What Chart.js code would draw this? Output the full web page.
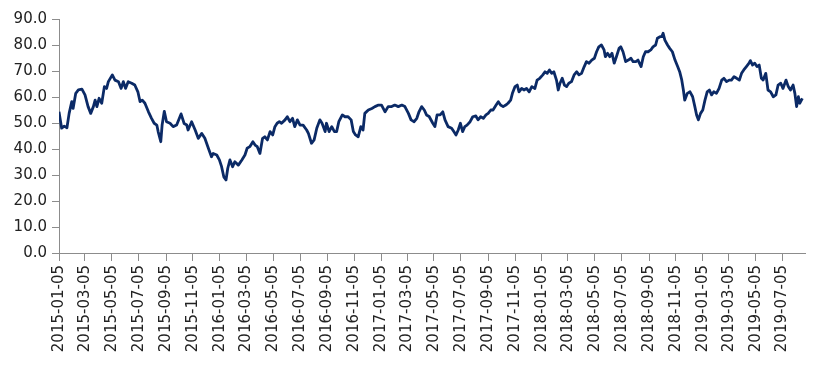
<!DOCTYPE html>
<html>
<head>
<meta charset="utf-8">
<script src="https://cdn.jsdelivr.net/npm/chart.js@4"></script>
<style>
html,body{margin:0;padding:0;background:#fff;}
#wrap{width:816px;height:380px;position:relative;}
</style>
</head>
<body>
<div id="wrap"><canvas id="c" width="816" height="380"></canvas></div>
<script>
// Start date of the series; x positions are days since this date
const startDate = "2015-01-05";
const dayOffsets = [0,6,12,18,23,29,32,38,44,52,59,66,72,78,82,86,91,97,103,108,112,121,127,135,141,146,151,157,165,172,179,184,189,195,203,210,216,222,225,231,234,239,244,252,259,267,277,284,290,293,301,309,316,324,331,339,346,350,358,364,369,374,379,383,388,394,399,407,415,422,427,433,440,445,450,456,462,467,473,479,485,490,495,500,505,513,518,524,530,535,541,547,554,562,566,573,579,585,592,597,604,607,613,619,625,630,635,643,649,656,663,668,673,679,685,690,694,702,710,717,725,732,740,747,755,762,770,778,785,793,799,806,812,817,823,829,834,840,848,853,858,865,871,876,883,891,896,901,906,911,916,921,926,933,939,946,951,957,963,969,974,980,985,992,997,1002,1008,1014,1019,1025,1029,1035,1040,1044,1050,1055,1061,1067,1073,1080,1085,1091,1098,1103,1108,1113,1118,1123,1129,1133,1137,1142,1147,1152,1157,1163,1169,1175,1180,1186,1192,1197,1203,1209,1215,1220,1225,1231,1237,1240,1245,1250,1255,1260,1265,1271,1275,1280,1286,1292,1298,1303,1309,1314,1321,1326,1331,1337,1343,1348,1354,1358,1364,1368,1371,1375,1381,1386,1392,1398,1404,1409,1413,1417,1420,1426,1432,1438,1443,1447,1451,1456,1461,1466,1471,1476,1481,1486,1492,1498,1504,1509,1515,1521,1526,1532,1538,1544,1549,1554,1560,1566,1569,1574,1579,1584,1589,1594,1598,1604,1609,1615,1621,1627,1632,1638,1643,1650,1655,1660,1666,1670,1674,1678,1681,1687];
const values = [54.3,48.0,48.8,48.2,53.7,58.2,55.6,61.4,62.7,63.0,60.8,56.3,53.7,56.3,58.8,56.3,59.5,57.6,64.0,63.3,65.9,68.5,66.5,65.9,63.3,65.9,63.3,65.9,65.3,64.6,62.0,58.2,58.8,57.6,54.3,51.8,49.9,49.2,46.7,42.8,49.2,54.5,50.5,49.9,48.6,49.2,53.5,49.8,49.2,47.3,50.5,47.3,44.1,46.0,44.1,40.3,37.0,38.3,37.7,35.8,33.2,29.3,28.1,32.6,35.8,33.2,35.1,33.8,35.8,37.7,40.3,40.9,42.8,41.5,40.9,38.3,44.1,44.7,43.5,46.7,45.4,48.6,49.9,50.5,49.9,51.2,52.4,50.5,51.8,48.6,51.2,49.2,49.2,47.3,46.0,42.2,43.5,48.0,51.2,49.9,46.7,49.9,46.7,48.6,46.7,46.7,50.5,53.1,52.4,52.4,51.2,46.7,45.4,44.7,48.6,47.3,53.7,55.0,55.6,56.3,56.9,56.9,54.3,56.3,56.3,56.9,56.3,56.9,56.3,53.7,51.2,50.5,51.8,54.3,56.3,55.0,53.1,52.5,50.0,48.6,53.1,53.1,54.3,51.2,48.6,48.0,46.7,45.4,47.3,49.9,46.7,48.6,49.2,50.5,52.4,52.7,51.2,52.4,51.8,53.1,53.7,55.0,55.0,56.9,58.2,56.9,56.3,56.9,57.6,58.8,61.4,64.0,64.6,62.0,63.3,62.7,63.3,62.0,64.0,63.3,66.5,67.2,68.5,69.7,69.1,70.4,69.1,69.7,66.5,62.7,65.3,67.2,64.6,64.0,65.3,65.9,68.5,69.7,68.5,69.1,71.7,73.6,73.0,74.2,74.9,77.4,79.3,80.0,78.1,75.5,76.8,75.5,76.8,73.0,75.5,78.7,79.3,77.4,73.6,74.2,74.9,73.6,73.6,74.2,71.7,75.5,77.4,77.4,78.1,79.3,80.0,82.6,83.2,83.2,84.5,81.9,80.0,78.7,77.4,74.2,71.7,69.5,66.8,62.7,58.8,61.4,62.0,60.1,56.3,53.1,51.2,53.7,55.0,58.8,62.0,62.7,60.8,62.0,61.4,63.3,66.5,67.2,65.9,66.5,66.5,67.8,67.2,66.5,69.1,70.4,71.7,73.0,74.0,72.3,73.0,71.7,72.3,67.2,66.5,69.1,62.7,62.0,60.1,60.8,64.6,65.3,63.3,66.5,64.0,62.7,64.6,61.4,56.3,60.1,57.6,59.5];
const tickLabels = ["2015-01-05","2015-03-05","2015-05-05","2015-07-05","2015-09-05","2015-11-05","2016-01-05","2016-03-05","2016-05-05","2016-07-05","2016-09-05","2016-11-05","2017-01-05","2017-03-05","2017-05-05","2017-07-05","2017-09-05","2017-11-05","2018-01-05","2018-03-05","2018-05-05","2018-07-05","2018-09-05","2018-11-05","2019-01-05","2019-03-05","2019-05-05","2019-07-05"];
const yTicks = [0,10,20,30,40,50,60,70,80,90];
const xMaxDay = 1693;

function dayNum(s){const p=s.split('-').map(Number);return Date.UTC(p[0],p[1]-1,p[2])/86400000;}
const d0 = dayNum(startDate);
const tickDays = tickLabels.map(s=>dayNum(s)-d0);
const labelByDay = {};
tickDays.forEach((d,i)=>labelByDay[d]=tickLabels[i]);

const points = dayOffsets.map((d,i)=>({x:d,y:values[i]}));
const FONT = "'DejaVu Sans', sans-serif";
const AXIS = '#8c8c8c';

new Chart(document.getElementById('c'),{
  type:'line',
  data:{datasets:[{data:points,borderColor:'#0b2a66',borderWidth:2.8,pointRadius:0,tension:0,fill:false,borderJoinStyle:'round'}]},
  options:{
    responsive:false,animation:false,
    layout:{padding:{top:19,right:11,bottom:0,left:0}},
    plugins:{legend:{display:false},tooltip:{enabled:false}},
    scales:{
      x:{type:'linear',min:0,max:xMaxDay,
        afterFit:s=>{s.height=127;},
        afterBuildTicks:s=>{s.ticks=tickDays.map(v=>({value:v}));},
        border:{display:true,color:AXIS,width:1},
        grid:{display:true,drawOnChartArea:false,drawTicks:true,tickLength:8,color:AXIS},
        ticks:{autoSkip:false,minRotation:90,maxRotation:90,padding:4,color:'#222',font:{family:FONT,size:15},
          callback:v=>labelByDay[v]||''}
      },
      y:{type:'linear',min:0,max:90,
        afterFit:s=>{s.width=59;},
        afterBuildTicks:s=>{s.ticks=yTicks.map(v=>({value:v}));},
        border:{display:true,color:AXIS,width:1},
        grid:{display:true,drawOnChartArea:false,drawTicks:true,tickLength:7,color:AXIS},
        ticks:{padding:5,color:'#222',font:{family:FONT,size:15},callback:v=>v.toFixed(1)}
      }
    }
  }
});
</script>
</body>
</html>
